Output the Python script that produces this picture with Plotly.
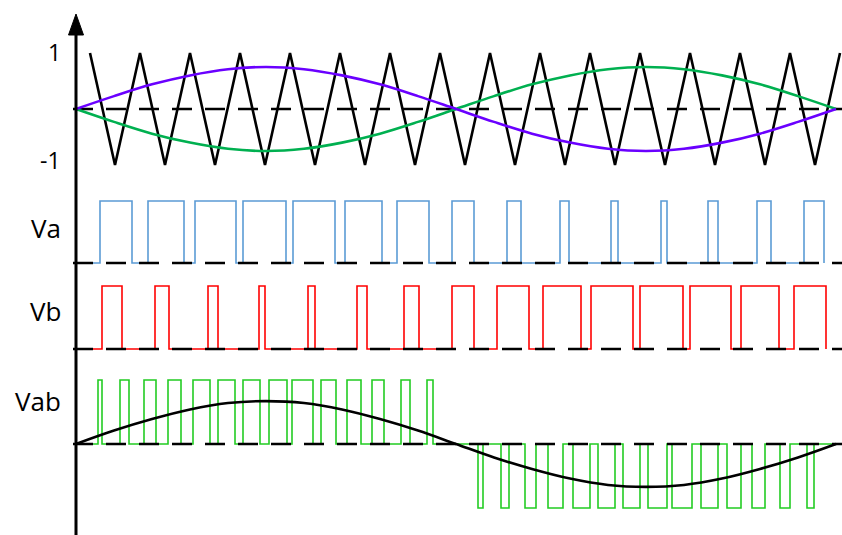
import plotly.graph_objects as go

# ---- data (time axis in arbitrary units: 0 at the vertical axis, one sine period = 760) ----
carrier_t = [14 + 25 * k for k in range(31)]
carrier_v = [1, -1] * 15 + [1]

sine_t = [0, 38, 76, 114, 152, 190, 228, 266, 304, 342, 380,
          418, 456, 494, 532, 570, 608, 646, 684, 722, 760]
ref_a = [0, 0.23, 0.44, 0.60, 0.71, 0.75, 0.71, 0.60, 0.44, 0.23, 0,
         -0.23, -0.44, -0.60, -0.71, -0.75, -0.71, -0.60, -0.44, -0.23, 0]
ref_b = [0, -0.23, -0.44, -0.60, -0.71, -0.75, -0.71, -0.60, -0.44, -0.23, 0,
         0.23, 0.44, 0.60, 0.71, 0.75, 0.71, 0.60, 0.44, 0.23, 0]

va_pulses = [(24, 56), (72, 108), (119, 160), (167, 210), (217, 259), (269, 306),
             (321, 353), (376, 398), (431, 445), (484, 493), (535, 542), (585, 591),
             (632, 642), (681, 695), (728, 748)]
vb_pulses = [(26, 46), (79, 93), (132, 142), (183, 189), (232, 239), (281, 291),
             (328, 343), (376, 398), (421, 453), (467, 505), (515, 557), (564, 607),
             (614, 655), (665, 703), (718, 750)]
vab_pos = [(22, 26), (44, 53), (68, 80), (92, 105), (117, 134), (142, 159), (167, 184),
           (193, 211), (216, 237), (245, 260), (271, 285), (296, 308), (325, 334), (351, 357)]
vab_neg = [(402, 407), (425, 433), (449, 460), (472, 487), (497, 514), (522, 539),
           (547, 564), (572, 591), (596, 616), (625, 642), (651, 665), (676, 689),
           (704, 714), (731, 738)]

fund_t = [0, 38, 76, 114, 152, 190, 228, 266, 304, 342, 380,
          418, 456, 494, 532, 570, 608, 646, 684, 722, 760]
fund_v = [0, 0.21, 0.39, 0.54, 0.64, 0.67, 0.64, 0.54, 0.39, 0.21, 0,
          -0.21, -0.39, -0.54, -0.64, -0.67, -0.64, -0.54, -0.39, -0.21, 0]

T_END = 760
DASH_START, DASH_END = -3, 766

W, H = 842, 535


def steps(pulses, level, end):
    xs, ys = [0], [0]
    for a, b in pulses:
        xs += [a, a, b, b]
        ys += [0, level, level, 0]
    if end is not None and end > xs[-1]:
        xs.append(end)
        ys.append(0)
    return xs, ys


def steps2(pos, neg, end):
    xs, ys = [0], [0]
    for a, b in pos:
        xs += [a, a, b, b]
        ys += [0, 1, 1, 0]
    for a, b in neg:
        xs += [a, a, b, b]
        ys += [0, -1, -1, 0]
    xs.append(end)
    ys.append(0)
    return xs, ys


def dom(py_bottom, py_top):
    return [1 - py_bottom / H, 1 - py_top / H]


fig = go.Figure()
dash_style = "20px,13px"

# Row 1: carrier and references
fig.add_trace(go.Scatter(x=carrier_t, y=carrier_v, mode="lines",
                         line=dict(color="black", width=2.6), yaxis="y"))
fig.add_trace(go.Scatter(x=[DASH_START, DASH_END], y=[0, 0], mode="lines",
                         line=dict(color="black", width=2.6, dash=dash_style), yaxis="y"))
fig.add_trace(go.Scatter(x=sine_t, y=ref_b, mode="lines", line_shape="spline",
                         line=dict(color="#00B050", width=2.6), yaxis="y"))
fig.add_trace(go.Scatter(x=sine_t, y=ref_a, mode="lines", line_shape="spline",
                         line=dict(color="#6A00FF", width=2.6), yaxis="y"))

# Row 2: Va
xs, ys = steps(va_pulses, 1, None)
fig.add_trace(go.Scatter(x=xs, y=ys, mode="lines", line=dict(color="#5B9BD5", width=1.6), yaxis="y2"))
fig.add_trace(go.Scatter(x=[DASH_START, DASH_END], y=[0, 0], mode="lines",
                         line=dict(color="black", width=2.6, dash=dash_style), yaxis="y2"))

# Row 3: Vb
xs, ys = steps(vb_pulses, 1, None)
fig.add_trace(go.Scatter(x=xs, y=ys, mode="lines", line=dict(color="#FF0000", width=1.6), yaxis="y3"))
fig.add_trace(go.Scatter(x=[DASH_START, DASH_END], y=[0, 0], mode="lines",
                         line=dict(color="black", width=2.6, dash=dash_style), yaxis="y3"))

# Row 4: Vab
xs, ys = steps2(vab_pos, vab_neg, T_END)
fig.add_trace(go.Scatter(x=xs, y=ys, mode="lines", line=dict(color="#22CC22", width=1.6), yaxis="y4"))
fig.add_trace(go.Scatter(x=[DASH_START, DASH_END], y=[0, 0], mode="lines",
                         line=dict(color="black", width=2.6, dash=dash_style), yaxis="y4"))
fig.add_trace(go.Scatter(x=fund_t, y=fund_v, mode="lines", line_shape="spline",
                         line=dict(color="black", width=2.6), yaxis="y4"))

ax_common = dict(visible=False, fixedrange=True)
fig.update_layout(
    width=W, height=H,
    margin=dict(l=0, r=0, t=0, b=0),
    paper_bgcolor="white", plot_bgcolor="white",
    showlegend=False,
    xaxis=dict(range=[-76, 766], **ax_common),
    yaxis=dict(range=[-1.5, 1.5], domain=dom(193, 25), **ax_common),
    yaxis2=dict(range=[-0.2, 1.2], domain=dom(275.4, 188.6), **ax_common),
    yaxis3=dict(range=[-0.2, 1.2], domain=dom(361.6, 273.4), **ax_common),
    yaxis4=dict(range=[-1.2, 1.2], domain=dom(520.8, 367.2), **ax_common),
    shapes=[
        dict(type="line", xref="x", yref="paper", x0=0, x1=0, y0=0, y1=1 - 33 / H,
             line=dict(color="black", width=3)),
        dict(type="path", xref="x", yref="paper",
             path=f"M -7.5,{1 - 35 / H} L 7.5,{1 - 35 / H} L 0,{1 - 14 / H} Z",
             fillcolor="black", line=dict(color="black", width=1)),
    ],
)

font_family = "Open Sans, DejaVu Sans, sans-serif"
labels = [("1", 52, 23), ("-1", 160, 23), ("Va", 228, 26), ("Vb", 311, 26), ("Vab", 401, 26)]
for txt, py, size in labels:
    fig.add_annotation(x=-13, y=1 - py / H, xref="x", yref="paper", text=txt,
                       showarrow=False, xanchor="right", yanchor="middle",
                       font=dict(family=font_family, size=size, color="black"))

fig.write_html("out.html", config={"displayModeBar": False},
               post_script="document.body.style.margin='0';document.body.style.overflow='hidden';")
